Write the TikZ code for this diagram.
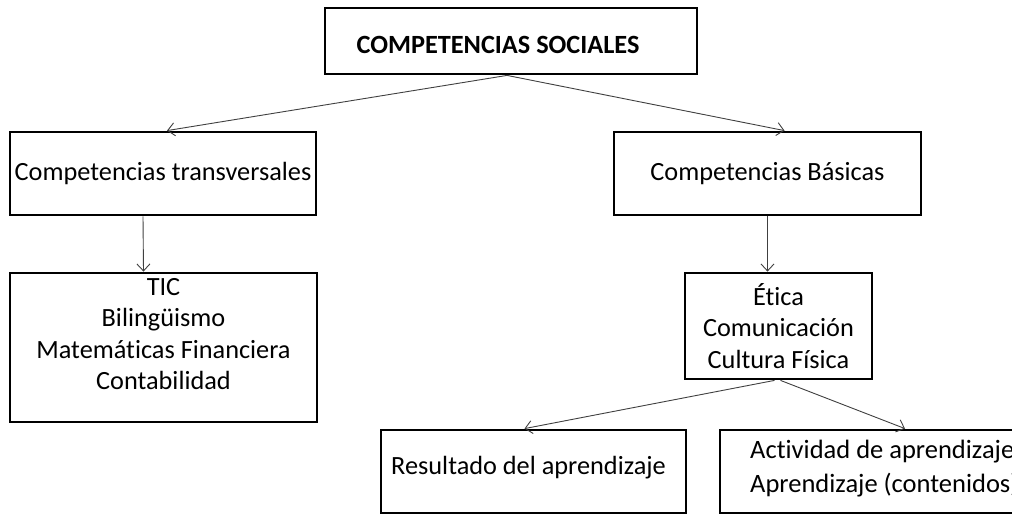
\documentclass[tikz,border=0pt]{standalone}
\usepackage{fontspec}
\setmainfont{Carlito}[Ligatures=NoCommon]
\usetikzlibrary{arrows.meta,calc}
\tikzset{
  box/.style={draw=black, line width=2.8pt, rectangle, inner sep=0pt, align=center},
  txt/.style={inner sep=0pt, align=center, font=\fontsize{26.3}{31.5}\selectfont},
  conn/.style={draw=black!75, line width=0.9pt, -{Straight Barb[length=7pt,width=13pt,line width=0.9pt]}}
}
\begin{document}
\begin{tikzpicture}[x=1pt,y=-1pt]
\useasboundingbox (0,0) rectangle (1012,515);
\clip (0,0) rectangle (1012,515);
% top
\node[box, minimum width=372pt, minimum height=66pt] (top) at (511,41) {};
\node[txt, font=\fontsize{26.3}{31.5}\selectfont\bfseries] (toptxt) at (498,45) {COMPETENCIAS SOCIALES};
% level 2
\node[box, txt, minimum width=306pt, minimum height=83pt] (trans) at (163,173.5) {\raisebox{3pt}{Competencias transversales}};
\node[box, txt, minimum width=307pt, minimum height=83pt] (basic) at (767.5,173.5) {\raisebox{3pt}{Competencias Básicas}};
% level 3
\node[box, minimum width=307pt, minimum height=149pt] (list) at (163.5,347.5) {};
\node[txt] (listtxt) at (163.5,334) {TIC\\Bilingüismo\\Matemáticas Financiera\\Contabilidad};
\node[box, txt, minimum width=187pt, minimum height=106pt] (etica) at (778.5,326) {Ética\\Comunicación\\Cultura Física};
% level 4
\node[box, minimum width=305pt, minimum height=83pt] (res) at (533.5,471.5) {};
\node[txt] (restxt) at (528.5,468) {Resultado del aprendizaje};
\node[box, minimum width=320pt, minimum height=83pt] (act) at (880,471.5) {};
\node[txt, anchor=west, align=left, font=\fontsize{26.5}{34}\selectfont] (acttxt) at (750,469) {Actividad de aprendizaje\\Aprendizaje (contenidos)};
% connectors
\draw[conn] ($(top.south)+(-4,0)$) -- ($(trans.north)+(4,0)$);
\draw[conn] ($(top.south)+(-4,0)$) -- ($(basic.north)+(17,0)$);
\draw[conn] ($(trans.south)+(-20,0)$) -- ($(list.north)+(-20,0)$);
\draw[conn] (basic.south) -- (basic.south |- etica.north);
\draw[conn] ($(etica.south)+(-4,0)$) -- ($(res.north)+(-9,0)$);
\draw[conn] ($(etica.south)+(2,0)$) -- ($(act.north)+(25,0)$);
\end{tikzpicture}
\end{document}
